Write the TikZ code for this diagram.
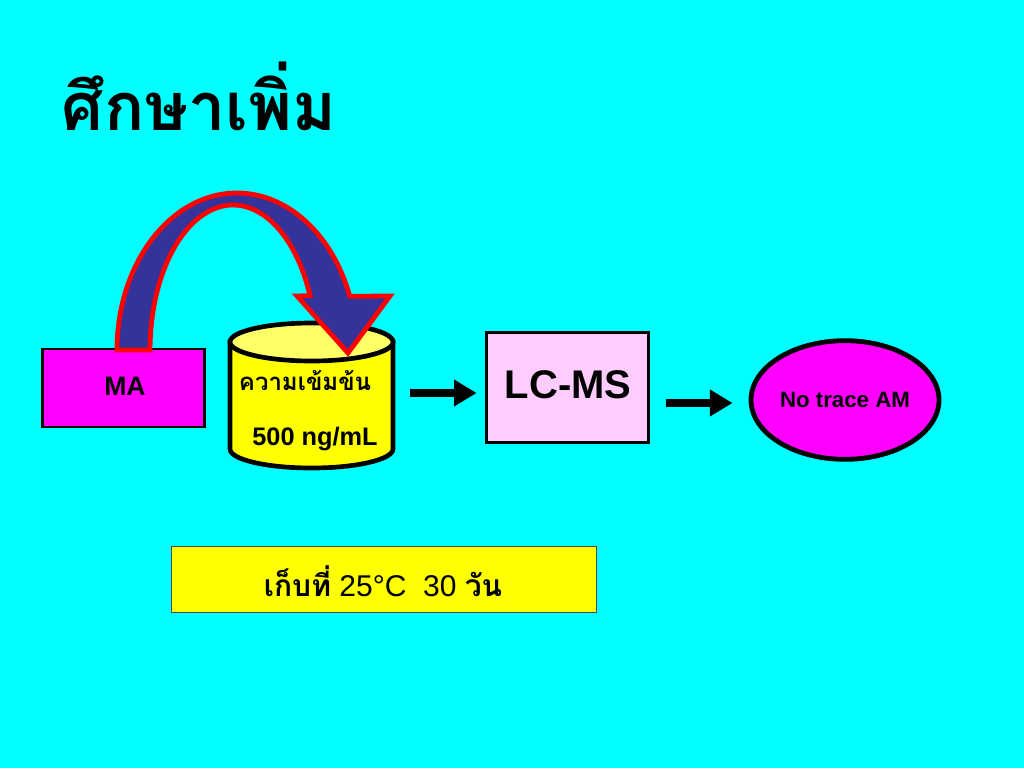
\documentclass[tikz,border=0pt]{standalone}
\usepackage{fontspec}
\setmainfont{Liberation Sans}
\newfontfamily\thaifont[Script=Thai]{Loma}
\usetikzlibrary{arrows.meta,shapes.geometric}

\definecolor{bgcyan}{HTML}{00FFFF}
\definecolor{magbox}{HTML}{FF00FF}
\definecolor{pinkbox}{HTML}{FFCCFF}
\definecolor{tankbody}{HTML}{FFFF00}
\definecolor{tanktop}{HTML}{FFFF66}
\definecolor{archblue}{HTML}{333399}

\begin{document}
\begin{tikzpicture}[
x=0.75pt, y=-0.75pt,
boxnode/.style={rectangle, draw=black, line width=2.2pt, inner sep=0pt},
flow/.style={line width=6pt, -{Triangle[length=17pt,width=19pt]}},
]
    % background
    \fill[bgcyan] (0,0) rectangle (1024,768);
    \useasboundingbox (0,0) rectangle (1024,768);

    \node [anchor=west, font=\thaifont\bfseries\fontsize{50}{54}\selectfont] (title) at (57,96) {ศึกษาเพิ่ม};

    \node [boxnode, fill=magbox, minimum width=122pt, minimum height=58.5pt] (ma) at (123.5,388) {};
    \node [font=\bfseries\fontsize{20}{24}\selectfont] (matext) at (125,386) {MA};

    % tank
    \draw [line width=3.5pt, fill=tankbody] (230,342) -- (230,449)
        arc [start angle=180, end angle=0, x radius=81.5, y radius=19] -- (393,342) -- cycle;
    \draw [line width=3.5pt, fill=tanktop] (311.5,342) ellipse [x radius=81.5, y radius=19];
    \node [inner sep=0pt, minimum width=122pt, minimum height=95pt] (tank) at (311.5,400) {};
    \node [font=\thaifont\bfseries\fontsize{18}{21}\selectfont] (conc) at (305,381) {ความเข้มข้น};
    \node [font=\bfseries\fontsize{19}{22}\selectfont] (amount) at (315,439) {500 ng/mL};

    % curved arrow
    \draw [fill=archblue, draw=red, line width=3.6pt, line join=miter]
        (117,350) arc [start angle=180, end angle=340, x radius=120, y radius=157]
        -- (390,296) -- (348,353) -- (297,296) -- (310,295.7)
        arc [start angle=338, end angle=180, x radius=83, y radius=145] -- cycle;

    \node [boxnode, fill=pinkbox, minimum width=122pt, minimum height=83pt] (lcms) at (567.5,387.5) {};
    \node [font=\bfseries\fontsize{30}{34}\selectfont] (lcmstext) at (568,385) {LC-MS};

    \node [ellipse, draw=black, line width=3.6pt, fill=magbox, inner sep=0pt, minimum width=141pt, minimum height=89pt,
           font=\bfseries\fontsize{16.7}{20}\selectfont] (trace) at (845,400) {No trace AM};

    \coordinate (a1) at (410,393);
    \coordinate (a2) at (666,403);
    \draw [flow, shorten >=6pt] (a1) -- (a1 -| lcms.west);
    \draw [flow, shorten >=12pt] (a2) -- (a2 -| trace.west);

    \node [rectangle, draw=black!70, line width=0.8pt, fill=tankbody, minimum width=319pt, minimum height=50pt] (store) at (384,579.5) {};
    \node [font=\fontsize{22.5}{26}\selectfont] (storetext) at (383,581) {{\thaifont\bfseries เก็บที่} 25°C\ \ 30 {\thaifont\bfseries วัน}};
\end{tikzpicture}
\end{document}
